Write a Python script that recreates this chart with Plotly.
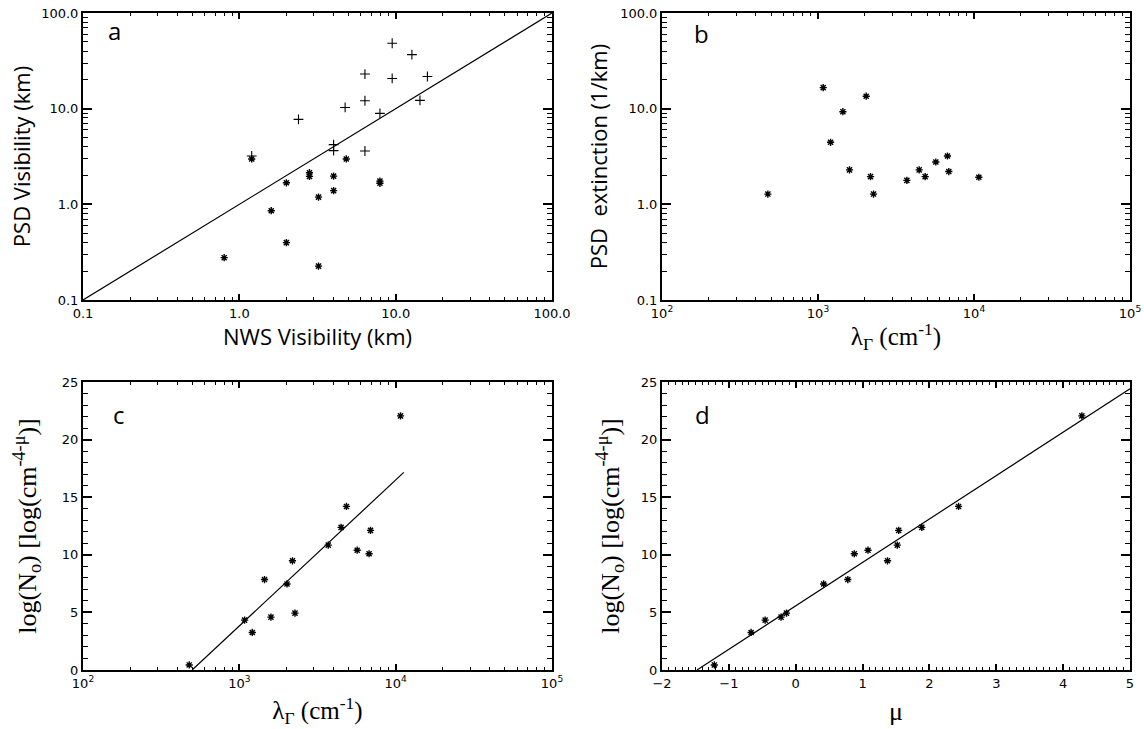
import plotly.graph_objects as go

# ---------------- data ----------------
# panel a: NWS visibility vs PSD visibility (km)
a_plus_x = [9.5, 12.7, 6.36, 9.5, 15.96, 6.36, 14.3, 4.75, 7.93, 2.39, 4.01, 4.01, 6.36, 1.2]
a_plus_y = [48.3, 36.7, 23.0, 20.7, 21.7, 12.1, 12.2, 10.3, 8.93, 7.72, 4.21, 3.64, 3.61, 3.2]
a_star_x = [1.2, 2.81, 2.81, 4.01, 4.83, 2.0, 7.93, 7.93, 4.01, 3.21, 1.60, 2.0, 0.80, 3.21]
a_star_y = [2.98, 2.14, 1.96, 1.97, 2.98, 1.68, 1.75, 1.66, 1.39, 1.19, 0.858, 0.398, 0.277, 0.226]
a_line_x = [0.1, 100.0]
a_line_y = [0.1, 100.0]

# panel b: lambda_Gamma (cm^-1) vs PSD extinction (1/km)
b_lam = [477, 1080, 2037, 1444, 1204, 1592, 2171, 2270, 3712, 4451, 4863, 5690, 6760, 6896, 10740]
b_ext = [1.28, 16.6, 13.5, 9.3, 4.45, 2.29, 1.95, 1.28, 1.78, 2.29, 1.95, 2.77, 3.2, 2.2, 1.92]

# panel c: lambda_Gamma vs log(N0)
c_lam = [478, 1080, 1210, 1449, 1593, 2018, 2187, 2270, 3704, 4477, 4843, 5675, 6761, 6905, 10740]
c_logn = [0.44, 4.33, 3.26, 7.85, 4.59, 7.47, 9.48, 4.94, 10.84, 12.38, 14.2, 10.4, 10.09, 12.12, 22.06]
c_fit_x = [499, 11270]
c_fit_y = [0.0, 17.15]

# panel d: mu vs log(N0)
d_mu = [-1.217, -0.667, -0.457, -0.219, -0.138, 0.418, 0.779, 0.876, 1.081, 1.373, 1.519, 1.54, 1.886, 2.436, 4.28]
d_logn = [0.44, 3.26, 4.33, 4.59, 4.94, 7.47, 7.85, 10.09, 10.4, 9.48, 10.84, 12.12, 12.38, 14.2, 22.06]
d_fit_x = [-1.477, 5.0]
d_fit_y = [0.0, 24.42]

vis_ticks = [0.1, 1.0, 10.0, 100.0]
vis_ticktext = ["0.1", "1.0", "10.0", "100.0"]
lam_ticks = [100, 1000, 10000, 100000]
lam_ticktext = ["10<sup>2</sup>", "10<sup>3</sup>", "10<sup>4</sup>", "10<sup>5</sup>"]

# ---------------- figure ----------------
W, H = 1144, 729
SANS = "Open Sans"
TICKF = "DejaVu Sans"
SERIF = "Liberation Serif"

def px_x(x0, x1):
    return [x0 / W, x1 / W]

def px_y(y_top, y_bot):
    return [1 - y_bot / H, 1 - y_top / H]

fig = go.Figure()

star = dict(symbol="asterisk-open", size=6, color="black", line=dict(color="black", width=1.4))
plus = dict(symbol="cross-thin-open", size=7, color="black", line=dict(color="black", width=1.1))
line = dict(color="black", width=1.2)

fig.add_trace(go.Scatter(x=a_line_x, y=a_line_y, mode="lines", line=line, xaxis="x", yaxis="y"))
fig.add_trace(go.Scatter(x=a_plus_x, y=a_plus_y, mode="markers", marker=plus, xaxis="x", yaxis="y"))
fig.add_trace(go.Scatter(x=a_star_x, y=a_star_y, mode="markers", marker=star, xaxis="x", yaxis="y"))

fig.add_trace(go.Scatter(x=b_lam, y=b_ext, mode="markers", marker=star, xaxis="x2", yaxis="y2"))

fig.add_trace(go.Scatter(x=c_fit_x, y=c_fit_y, mode="lines", line=line, xaxis="x3", yaxis="y3"))
fig.add_trace(go.Scatter(x=c_lam, y=c_logn, mode="markers", marker=star, xaxis="x3", yaxis="y3"))

fig.add_trace(go.Scatter(x=d_fit_x, y=d_fit_y, mode="lines", line=line, xaxis="x4", yaxis="y4"))
fig.add_trace(go.Scatter(x=d_mu, y=d_logn, mode="markers", marker=star, xaxis="x4", yaxis="y4"))

log_minor = [m * 10 ** e for e in range(-1, 5) for m in range(2, 10)]

def common(is_x):
    return dict(
        showgrid=False, zeroline=False, showline=True, linecolor="black", linewidth=2,
        mirror="allticks", ticks="inside", ticklen=6 if is_x else 9, tickwidth=1.5,
        tickcolor="black", automargin=False,
        tickfont=dict(family=TICKF, size=13, color="black"),
    )

def minor_log(is_x):
    return dict(ticks="inside", ticklen=3 if is_x else 5, tickwidth=1.2, tickcolor="black",
                tickmode="array", tickvals=log_minor, showgrid=False)

def lin_minor(step, is_x):
    return dict(ticks="inside", ticklen=3 if is_x else 5, tickwidth=1.2, tickcolor="black",
                dtick=step, showgrid=False)

top_row = px_y(13, 300)
bot_row = px_y(382, 670)
left_col = px_x(83, 552)
right_col = px_x(662, 1130)

ytitle_serif = "log(N<sub>o</sub>) [log(cm<sup>-4-μ</sup>)]"
lam_title = "λ<sub>Γ</sub> (cm<sup>-1</sup>)"
sans_title = dict(family=SANS, size=22, color="black")

fig.update_layout(
    template="none",
    width=W, height=H, margin=dict(l=0, r=0, t=0, b=0, autoexpand=False),
    paper_bgcolor="white", plot_bgcolor="white", showlegend=False,
    xaxis=dict(common(True), type="log", domain=left_col, range=[-1, 2], anchor="y",
               tickmode="array", tickvals=vis_ticks, ticktext=vis_ticktext, minor=minor_log(True),
               title=dict(text="NWS Visibility (km)", font=sans_title, standoff=4)),
    yaxis=dict(common(False), type="log", domain=top_row, range=[-1, 2], anchor="x",
               tickmode="array", tickvals=vis_ticks, ticktext=vis_ticktext, minor=minor_log(False),
               title=dict(text="PSD Visibility (km)", font=sans_title, standoff=4)),
    xaxis2=dict(common(True), type="log", domain=right_col, range=[2, 5], anchor="y2",
                tickmode="array", tickvals=lam_ticks, ticktext=lam_ticktext, minor=minor_log(True),
                title=dict(text=lam_title, font=dict(family=SERIF, size=25, color="black"), standoff=8)),
    yaxis2=dict(common(False), type="log", domain=top_row, range=[-1, 2], anchor="x2",
                tickmode="array", tickvals=vis_ticks, ticktext=vis_ticktext, minor=minor_log(False),
                title=dict(text="PSD  extinction (1/km)", font=sans_title, standoff=6)),
    xaxis3=dict(common(True), type="log", domain=left_col, range=[2, 5], anchor="y3",
                tickmode="array", tickvals=lam_ticks, ticktext=lam_ticktext, minor=minor_log(True),
                title=dict(text=lam_title, font=dict(family=SERIF, size=25, color="black"), standoff=12)),
    yaxis3=dict(common(False), domain=bot_row, range=[0, 25], anchor="x3", tick0=0, dtick=5,
                minor=lin_minor(1, False),
                title=dict(text=ytitle_serif, font=dict(family=SERIF, size=26, color="black"), standoff=18)),
    xaxis4=dict(common(True), domain=right_col, range=[-2, 5], anchor="y4", tick0=0, dtick=1,
                minor=lin_minor(0.1, True),
                title=dict(text="μ", font=dict(family=SERIF, size=26, color="black"), standoff=12)),
    yaxis4=dict(common(False), domain=bot_row, range=[0, 25], anchor="x4", tick0=0, dtick=5,
                minor=lin_minor(1, False),
                title=dict(text=ytitle_serif, font=dict(family=SERIF, size=26, color="black"), standoff=14)),
)

panel_labels = [("a", 114, 30), ("b", 701, 34), ("c", 119, 414), ("d", 702, 414)]
for txt, px, py in panel_labels:
    fig.add_annotation(text=txt, x=px / W, y=1 - py / H, xref="paper", yref="paper",
                       showarrow=False, xanchor="center", yanchor="middle",
                       font=dict(family=SANS, size=24, color="black"))

fig.write_html(
    "out.html",
    config={"displayModeBar": False},
    post_script="document.body.style.margin='0';document.body.style.overflow='hidden';",
)
